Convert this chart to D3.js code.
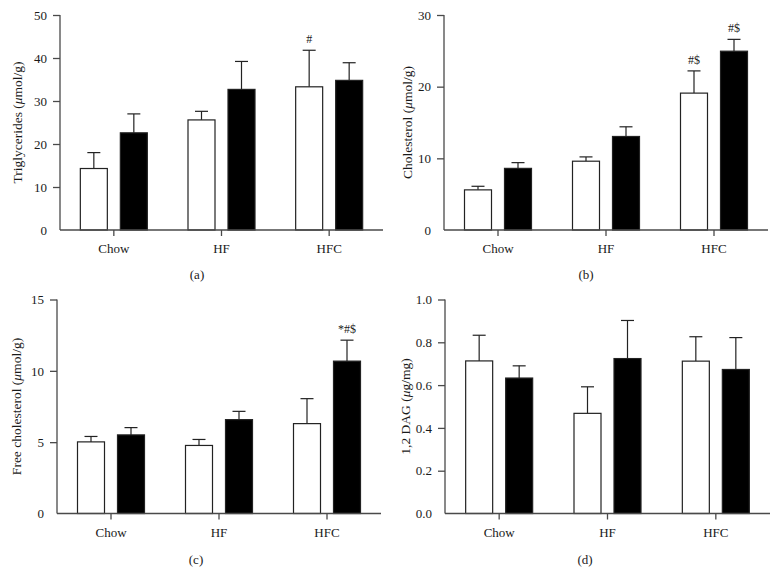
<!DOCTYPE html>
<html><head><meta charset="utf-8">
<script src="https://cdn.jsdelivr.net/npm/d3@7"></script>
<style>
body{margin:0;background:#fff;}
svg text{font-family:"Liberation Serif","Times New Roman",serif;fill:#1a1a1a;}
</style></head>
<body><svg id="c" width="777" height="573"></svg>
<script>
const categories = ["Chow", "HF", "HFC"];
const seriesKeys = ["white", "black"];

// (a) Triglycerides
const trigWhite = [14.3, 25.6, 33.3];
const trigWhiteErr = [3.7, 2.0, 8.5];
const trigBlack = [22.6, 32.7, 34.8];
const trigBlackErr = [4.4, 6.5, 4.1];
const trigMarks = [["", ""], ["", ""], ["#", ""]];
const trigTicks = [0, 10, 20, 30, 40, 50];

// (b) Cholesterol
const cholWhite = [5.6, 9.6, 19.1];
const cholWhiteErr = [0.5, 0.6, 3.1];
const cholBlack = [8.6, 13.05, 24.95];
const cholBlackErr = [0.8, 1.35, 1.65];
const cholMarks = [["", ""], ["", ""], ["#$", "#$"]];
const cholTicks = [0, 10, 20, 30];

// (c) Free cholesterol
const freeWhite = [5.02, 4.77, 6.3];
const freeWhiteErr = [0.38, 0.42, 1.75];
const freeBlack = [5.51, 6.58, 10.68];
const freeBlackErr = [0.51, 0.58, 1.47];
const freeMarks = [["", ""], ["", ""], ["", "*#$"]];
const freeTicks = [0, 5, 10, 15];

// (d) 1,2 DAG
const dagWhite = [0.713, 0.468, 0.712];
const dagWhiteErr = [0.12, 0.124, 0.114];
const dagBlack = [0.633, 0.724, 0.673];
const dagBlackErr = [0.057, 0.178, 0.149];
const dagMarks = [["", ""], ["", ""], ["", ""]];
const dagTicks = [0, 0.2, 0.4, 0.6, 0.8, 1.0];

const panels = [
  {white: trigWhite, whiteErr: trigWhiteErr, black: trigBlack, blackErr: trigBlackErr, marks: trigMarks, ticks: trigTicks,
   fmt: d3.format("d"), label: ["Triglycerides (", "μ", "mol/g)"], tag: "(a)",
   x0: 60, x1: 383, yTop: 15, yBot: 230, labX: 17, tagX: 197, tagY: 274},
  {white: cholWhite, whiteErr: cholWhiteErr, black: cholBlack, blackErr: cholBlackErr, marks: cholMarks, ticks: cholTicks,
   fmt: d3.format("d"), label: ["Cholesterol (", "μ", "mol/g)"], tag: "(b)",
   x0: 444, x1: 768, yTop: 15, yBot: 230, labX: 407, tagX: 586, tagY: 274},
  {white: freeWhite, whiteErr: freeWhiteErr, black: freeBlack, blackErr: freeBlackErr, marks: freeMarks, ticks: freeTicks,
   fmt: d3.format("d"), label: ["Free cholesterol (", "μ", "mol/g)"], tag: "(c)",
   x0: 57, x1: 381, yTop: 299.5, yBot: 513.5, labX: 16, tagX: 196, tagY: 559},
  {white: dagWhite, whiteErr: dagWhiteErr, black: dagBlack, blackErr: dagBlackErr, marks: dagMarks, ticks: dagTicks,
   fmt: d3.format(".1f"), label: ["1,2 DAG (", "μ", "g/mg)"], tag: "(d)",
   x0: 445, x1: 770, yTop: 299.5, yBot: 513.5, labX: 405, tagX: 585, tagY: 559}
];

const svg = d3.select("#c");
const axisColor = "#4a4a4a";

panels.forEach(p => {
  const g = svg.append("g");
  const maxV = p.ticks[p.ticks.length - 1];
  const y = d3.scaleLinear().domain([0, maxV]).range([p.yBot, p.yTop]);
  const x = d3.scaleBand().domain(categories).range([p.x0, p.x1]);
  const xs = d3.scaleBand().domain(seriesKeys).range([-33.5, 33.5]).paddingInner(0.325);

  const rows = categories.map((c, i) => ({
    cat: c,
    vals: [
      {key: "white", v: p.white[i], e: p.whiteErr[i], m: p.marks[i][0]},
      {key: "black", v: p.black[i], e: p.blackErr[i], m: p.marks[i][1]}
    ]
  }));

  const grp = g.selectAll("g.cat").data(rows).enter().append("g")
    .attr("transform", d => `translate(${x(d.cat) + x.bandwidth() / 2},0)`);

  const bw = xs.bandwidth();
  const bars = grp.selectAll("g.bar").data(d => d.vals).enter().append("g");
  bars.append("line")
    .attr("x1", d => xs(d.key) + bw / 2).attr("x2", d => xs(d.key) + bw / 2)
    .attr("y1", d => y(d.v)).attr("y2", d => y(d.v + d.e))
    .attr("stroke", "#222").attr("stroke-width", 1.2);
  bars.append("line")
    .attr("x1", d => xs(d.key) + bw / 2 - 6.5).attr("x2", d => xs(d.key) + bw / 2 + 6.5)
    .attr("y1", d => y(d.v + d.e)).attr("y2", d => y(d.v + d.e))
    .attr("stroke", "#222").attr("stroke-width", 1.2);
  bars.append("rect")
    .attr("x", d => xs(d.key)).attr("width", bw)
    .attr("y", d => y(d.v)).attr("height", d => y(0) - y(d.v))
    .attr("fill", d => d.key === "white" ? "#fff" : "#000")
    .attr("stroke", "#222").attr("stroke-width", 1.2);
  bars.append("text")
    .attr("x", d => xs(d.key) + bw / 2)
    .attr("y", d => y(d.v + d.e) - 7)
    .attr("text-anchor", "middle")
    .style("font-size", "12px")
    .text(d => d.m);

  const yAxis = d3.axisLeft(y).tickValues(p.ticks).tickFormat(p.fmt).tickSize(7).tickPadding(6);
  const ya = g.append("g").attr("transform", `translate(${p.x0},0)`).call(yAxis);
  const xAxis = d3.axisBottom(x).tickSize(6).tickPadding(8);
  const xa = g.append("g").attr("transform", `translate(0,${p.yBot})`).call(xAxis);
  [ya, xa].forEach(a => {
    a.select(".domain").attr("stroke", axisColor).attr("stroke-width", 1.3);
    a.selectAll(".tick line").attr("stroke", axisColor).attr("stroke-width", 1.3);
    a.selectAll(".tick text").style("font-family", '"Liberation Serif", serif').style("font-size", "13px").attr("fill", "#1a1a1a");
  });
  ya.select(".domain").attr("d", `M0,${p.yBot}V${p.yTop}`);
  ya.selectAll(".tick").filter(d => d === 0).select("line").remove();
  xa.select(".domain").attr("d", `M${p.x0},0H${p.x1}`);

  const lab = g.append("text")
    .attr("transform", `translate(${p.labX},${(p.yTop + p.yBot) / 2}) rotate(-90)`)
    .attr("text-anchor", "middle").attr("dominant-baseline", "central")
    .style("font-size", "13.5px");
  lab.append("tspan").text(p.label[0]);
  lab.append("tspan").style("font-style", "italic").text(p.label[1]);
  lab.append("tspan").text(p.label[2]);

  g.append("text").attr("x", p.tagX).attr("y", p.tagY)
    .attr("text-anchor", "middle").attr("dominant-baseline", "central")
    .style("font-size", "13px").text(p.tag);
});
</script></body></html>
